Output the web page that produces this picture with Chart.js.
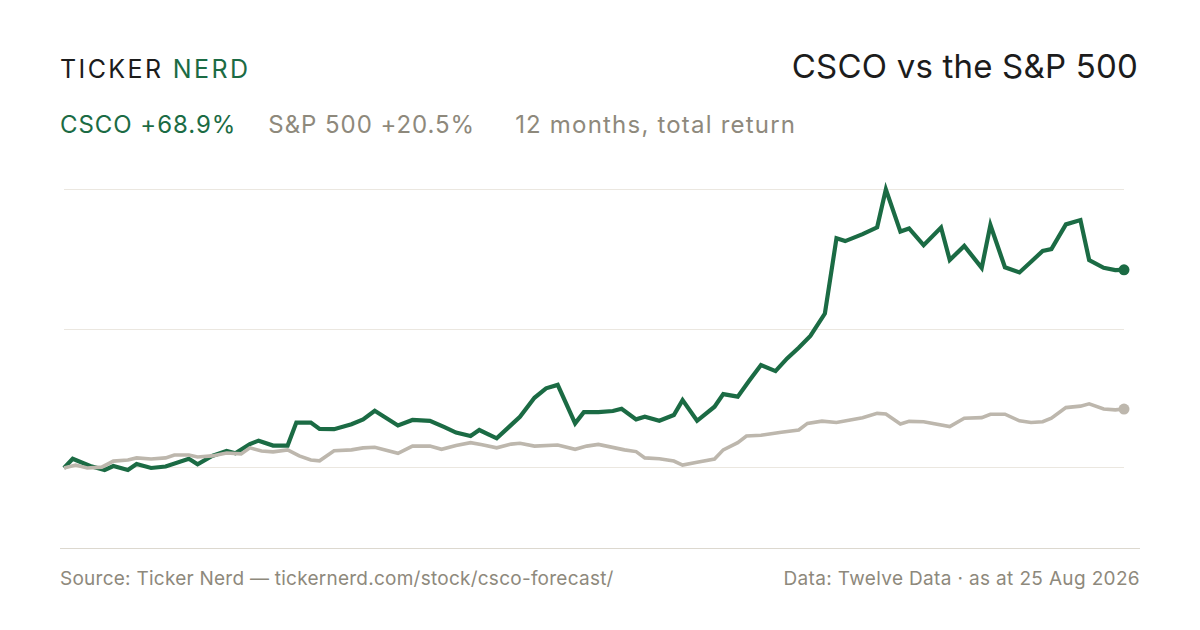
<!DOCTYPE html>
<html>
<head>
<meta charset="utf-8">
<script src="https://cdn.jsdelivr.net/npm/chart.js@4.4.1/dist/chart.umd.min.js"></script>
<style>
  html, body { margin: 0; padding: 0; background: #fff; }
  body { width: 1200px; height: 630px; position: relative; overflow: hidden; font-family: "Inter", "Noto Sans", sans-serif; }
  .brand { position: absolute; left: 60px; top: 54px; font-size: 25px; letter-spacing: 2.4px; color: #1c1c1c; white-space: pre; }
  .brand span { color: #1b6b44; }
  .title { position: absolute; right: 62px; top: 46px; font-size: 33px; color: #1c1c1c; letter-spacing: 0.2px; }
  .sub { position: absolute; left: 60px; top: 110px; font-size: 24px; color: #8e897c; letter-spacing: 0.95px; }
  .sub .g { color: #1b6b44; margin-right: 32px; }
  .sub .s { margin-right: 40px; }
  .sub .m { letter-spacing: 1.2px; }
  #wrap { position: absolute; left: 54px; top: 170px; width: 1080px; height: 366px; }
  .rule { position: absolute; left: 60px; width: 1080px; top: 548px; height: 1px; background: #dcd8cf; }
  .foot { position: absolute; top: 567px; font-size: 19px; color: #8e897c; letter-spacing: 0.25px; }
  .foot.r { right: 60px; letter-spacing: 0.35px; }
</style>
</head>
<body>
<div class="brand">TICKER <span>NERD</span></div>
<div class="title">CSCO vs the S&amp;P 500</div>
<div class="sub"><span class="g">CSCO +68.9%</span><span class="s">S&amp;P 500 +20.5%</span><span class="m">12 months, total return</span></div>
<div id="wrap"><canvas id="grafica"></canvas></div>
<div class="rule"></div>
<div class="foot" style="left:60px">Source: Ticker Nerd — tickernerd.com/stock/csco-forecast/</div>
<div class="foot r">Data: Twelve Data · as at 25 Aug 2026</div>
<script>
(function(){
    // days since start, total return in %
    const cscoDias = [0,3,9,14,17,22,25,30,35,43,46,51,56,59,64,67,72,77,80,85,88,93,99,103,107,115,120,126,131,135,140,143,149,154,157,162,166,170,176,179,184,189,192,197,200,205,210,213,218,224,227,232,236,240,245,249,253,257,262,266,269,275,280,283,288,291,296,302,305,310,316,319,324,329,333,337,340,345,350,353,358,362,365];
    const cscoRetorno = [0,3.2,0.7,-0.7,0.7,-0.7,1.4,0,0.5,3.2,1.3,4.2,5.9,5.1,8.3,9.5,7.8,7.8,15.8,15.8,13.6,13.5,15.2,16.9,19.9,14.8,16.7,16.4,14.2,12.3,11.1,13.2,10.3,15.0,17.8,24.4,27.7,28.9,15.5,19.4,19.4,19.8,20.6,16.9,17.8,16.4,18.4,23.6,16.4,21.3,25.7,24.8,30.4,35.8,33.7,38.1,41.8,45.9,53.7,79.9,78.9,81.3,83.7,96.9,82.2,83.3,77.5,83.6,72.3,77.2,69.6,84.5,69.8,68.0,71.7,75.5,76.1,84.7,86.2,72.3,69.6,68.8,68.9];

    const spxDias = [0,4,8,13,17,22,25,30,35,38,43,46,51,56,61,64,68,72,77,81,85,88,93,99,103,107,115,120,126,130,135,140,144,149,154,157,162,170,176,180,184,193,197,200,205,210,213,218,224,227,232,235,240,247,253,256,261,266,275,280,283,288,291,296,305,310,316,319,324,329,333,337,340,345,350,353,358,362,365];
    const spxRetorno = [0,1.0,0,0.3,2.4,2.8,3.5,3.1,3.5,4.5,4.5,3.8,4.2,5.2,4.9,7.0,5.9,5.6,6.3,4.2,2.8,2.5,6.0,6.3,7.0,7.2,5.1,7.6,7.6,6.5,7.8,8.8,8.1,7.0,8.3,8.6,7.6,8.0,6.5,7.6,8.2,6.3,5.7,3.5,3.2,2.4,1.0,2.0,3.1,6.3,8.8,11.1,11.4,12.4,13.2,15.5,16.3,15.8,17.5,19.0,18.8,15.3,16.2,16.1,14.4,17.3,17.5,18.7,18.7,16.4,15.8,16.1,17.3,21.0,21.5,22.3,20.5,20.2,20.5];

    const lineasY = [0, 48.3, 97];

    const verde = '#1b6b44';
    const gris = '#bdb7ad';

    const puntos = (dias, valores) => dias.map((d, i) => ({x: d, y: valores[i]}));
    const radioFinal = (n, r) => Array.from({length: n}, (_, i) => i === n - 1 ? r : 0);

    const ctx = document.getElementById('grafica');
    new Chart(ctx, {
        type: 'line',
        data: {
            datasets: [{
                label: 'S&P 500',
                data: puntos(spxDias, spxRetorno),
                borderColor: gris,
                backgroundColor: gris,
                borderWidth: 3.6,
                pointRadius: radioFinal(spxDias.length, 5.5),
                pointBorderWidth: 0,
                tension: 0,
                clip: false
            },{
                label: 'CSCO',
                data: puntos(cscoDias, cscoRetorno),
                borderColor: verde,
                backgroundColor: verde,
                borderWidth: 4.2,
                borderJoinStyle: 'miter',
                pointRadius: radioFinal(cscoDias.length, 5.5),
                pointBorderWidth: 0,
                tension: 0,
                clip: false
            }]
        },
        options: {
            responsive: true,
            maintainAspectRatio: false,
            animation: false,
            layout: { padding: { left: 10, right: 10, top: 10.4, bottom: 10.5 } },
            scales: {
                x: { type: 'linear', min: 0, max: 365, display: false },
                y: {
                    min: -20,
                    max: 100,
                    afterBuildTicks: axis => { axis.ticks = lineasY.map(v => ({value: v})); },
                    afterFit: axis => { axis.width = 0; },
                    ticks: { display: false },
                    border: { display: false },
                    grid: { color: '#ebe7e0', lineWidth: 1, drawTicks: false }
                }
            },
            plugins: {
                legend: { display: false },
                tooltip: { enabled: false }
            }
        }
    });
})();
</script>
</body>
</html>
